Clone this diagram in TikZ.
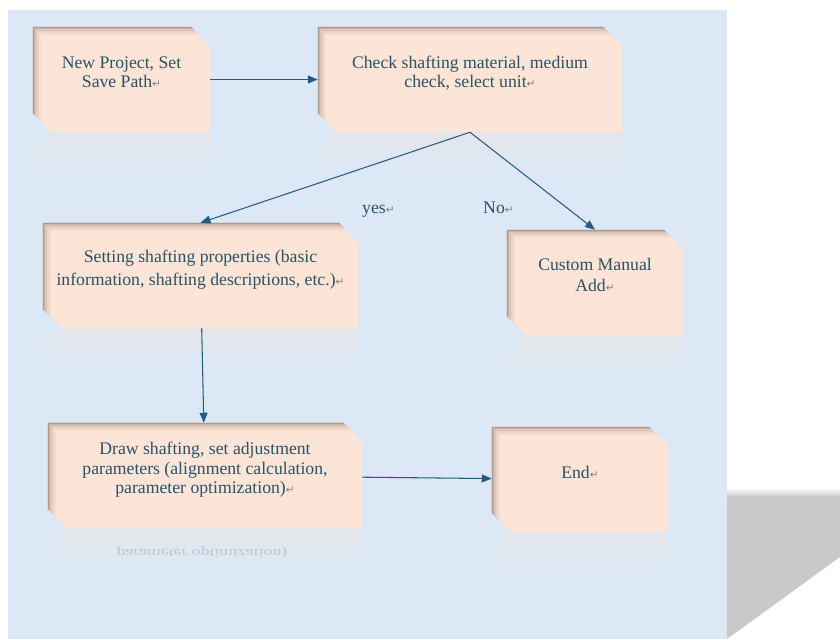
\documentclass[tikz,border=0pt]{standalone}
\usepackage{fontspec}
\setmainfont{Liberation Serif}
\newfontfamily\retfont{DejaVu Sans}
\usetikzlibrary{arrows.meta,backgrounds}

\definecolor{panelblue}{RGB}{220,232,245}
\definecolor{peach}{RGB}{252,228,214}
\definecolor{rimbrown}{RGB}{125,95,85}
\definecolor{reflgray}{RGB}{229,230,234}
\definecolor{inkteal}{RGB}{42,82,104}
\definecolor{flowblue}{RGB}{35,92,128}
\definecolor{dropgray}{RGB}{201,201,201}

% paragraph mark at the end of a text
\newcommand{\pmark}{{\retfont\fontsize{9}{9}\selectfont\color{gray}↵}\rule[-0.45cm]{0pt}{0pt}}

\begin{document}
\begin{tikzpicture}[x=0.03cm, y=-0.03cm,
        stepbox/.style={inner sep=0pt, minimum height=3.15cm, align=center, text=inkteal,
            font=\fontsize{15.1}{16.5}\selectfont},
        note/.style={inner sep=0pt, anchor=base west, text=inkteal, font=\fontsize{15.1}{16.5}\selectfont},
        arrow/.style={-{Triangle[length=3mm,width=2.4mm]}, line width=0.9pt, flowblue}
    ]
        \useasboundingbox (0,0) rectangle (840,639);

        % Page and its drop shadow
        \begin{scope}[on background layer]
            \fill[dropgray] (727,495) -- (840,495) -- (840,557) -- (727,639) -- cycle;
            \shade[top color=white, bottom color=dropgray] (727,488) rectangle (840,497);
            \fill[panelblue] (8,10) rectangle (727,639);
        \end{scope}

        % Steps
        \node[stepbox, minimum width=5.31cm] (newp) at (121.5,79.5) {New Project, Set\\Save Path\pmark};
        \node[stepbox, minimum width=9.12cm] (chk) at (470,79.5) {Check shafting material, medium\\check, select unit\pmark};
        \node[stepbox, minimum width=9.45cm] (props) at (200.5,275.5) {Setting shafting properties (basic\\[0.12cm]information, shafting descriptions, etc.)\pmark};
        \node[stepbox, minimum width=5.28cm] (cust) at (595,282.5) {Custom Manual\\[0.07cm]Add\pmark};
        \node[stepbox, minimum width=9.42cm] (drw) at (205,475.5) {Draw shafting, set adjustment\\parameters (alignment calculation,\\parameter optimization)\pmark};
        \node[stepbox, minimum width=5.28cm] (fin) at (580,479.5) {End\pmark};

        % Mirrored text under the drawing step
        \node[text=inkteal!22!panelblue, font=\fontsize{15.1}{16.5}\selectfont] (drwrefl) at (202,552)
            {\scalebox{1}[-0.7]{parameter optimization)}};

        % Boxes with snipped corners, inner rim and reflection
        \begin{scope}[on background layer]
            \foreach \b in {newp,chk,props,cust,drw,fin} {
                \shade[top color=reflgray, bottom color=panelblue]
                    ([xshift=0.57cm]\b.south west) -- (\b.south east) -- ([yshift=-1.1cm]\b.south east)
                    -- ([yshift=-1.1cm]\b.south west) -- ([yshift=-0.57cm]\b.south west) -- cycle;
                \begin{scope}
                    \clip ([yshift=-0.57cm]\b.north east) -- ([xshift=-0.57cm]\b.north east) -- (\b.north west)
                        -- ([yshift=0.57cm]\b.south west) -- ([xshift=0.57cm]\b.south west) -- (\b.south east) -- cycle;
                    \fill[peach] (\b.south west) rectangle (\b.north east);
                    \foreach \w/\o in {0.5/0.06,0.36/0.08,0.24/0.12,0.14/0.18,0.06/0.3}
                        \draw[rimbrown, line width=\w cm, opacity=\o] (\b.south west) -- (\b.north west) -- (\b.north east);
                \end{scope}
            }
        \end{scope}

        % Labels
        \node[note] (yes) at (362,213) {yes\pmark};
        \node[note] (no) at (483,213) {No\pmark};

        % Arrows
        \draw[arrow] (newp) -- (chk);
        \draw[arrow] (chk.south) -- (props.north);
        \draw[arrow] (chk.south) -- (cust.north);
        \draw[arrow] (props) -- (drw);
        \draw[arrow] (drw) -- (fin);
    \end{tikzpicture}
\end{document}
